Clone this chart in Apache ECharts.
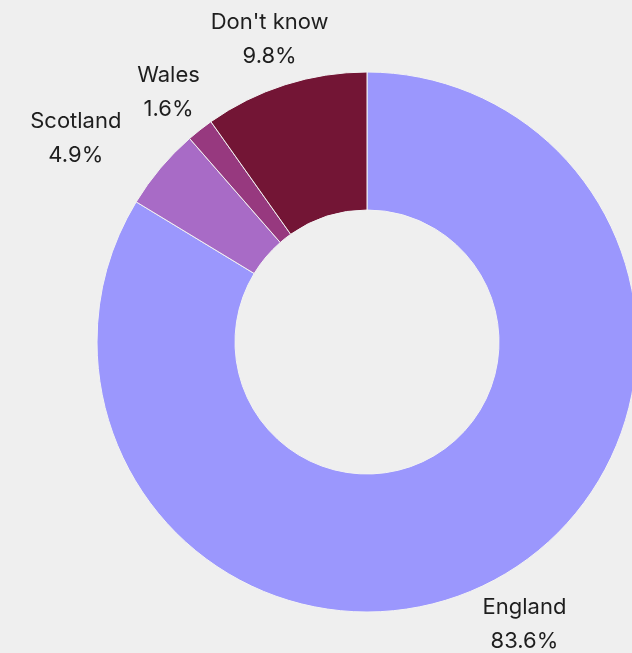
<!DOCTYPE html>
<html>
<head>
<meta charset="utf-8">
<script src="https://cdn.jsdelivr.net/npm/echarts@6/dist/echarts.min.js"></script>
<style>
html,body{margin:0;padding:0;background:#efefef;}
#chart{width:632px;height:653px;}
</style>
</head>
<body>
<div id="chart"></div>
<script>
// Data
const categories = ["England", "Scotland", "Wales", "Don't know"];
const shares = [83.6, 4.9, 1.6, 9.8];
const sliceColors = ["#9b97fd", "#a86bc6", "#97397f", "#731535"];

const chart = echarts.init(document.getElementById('chart'), null, {renderer: 'canvas'});
chart.setOption({
  backgroundColor: '#efefef',
  animation: false,
  series: [{
    type: 'pie',
    center: [367, 342],
    radius: [132, 270],
    startAngle: 90,
    clockwise: true,
    avoidLabelOverlap: false,
    silent: true,
    itemStyle: { borderColor: '#f3f3f3', borderWidth: 1 },
    label: {
      show: true,
      position: 'outside',
      formatter: function (p) { return p.name + '\n' + p.value.toFixed(1) + '%'; },
      fontFamily: 'Inter, "Noto Sans", sans-serif',
      fontSize: 22,
      lineHeight: 34,
      color: '#1e1e1e',
      distanceToLabelLine: 0
    },
    labelLine: { show: false, length: 51, length2: 0 },
    // Labels are centred on their anchor point; Scotland's is kept to the
    // left of its anchor so it does not collide with the Wales label.
    labelLayout: function (params) {
      if (categories[params.dataIndex] === 'Scotland') {
        return { align: 'center', dx: -params.labelRect.width / 2, dy: 3 };
      }
      return { align: 'center', dy: 3 };
    },
    data: categories.map(function (name, i) {
      return { name: name, value: shares[i], itemStyle: { color: sliceColors[i] } };
    })
  }]
});
</script>
</body>
</html>
